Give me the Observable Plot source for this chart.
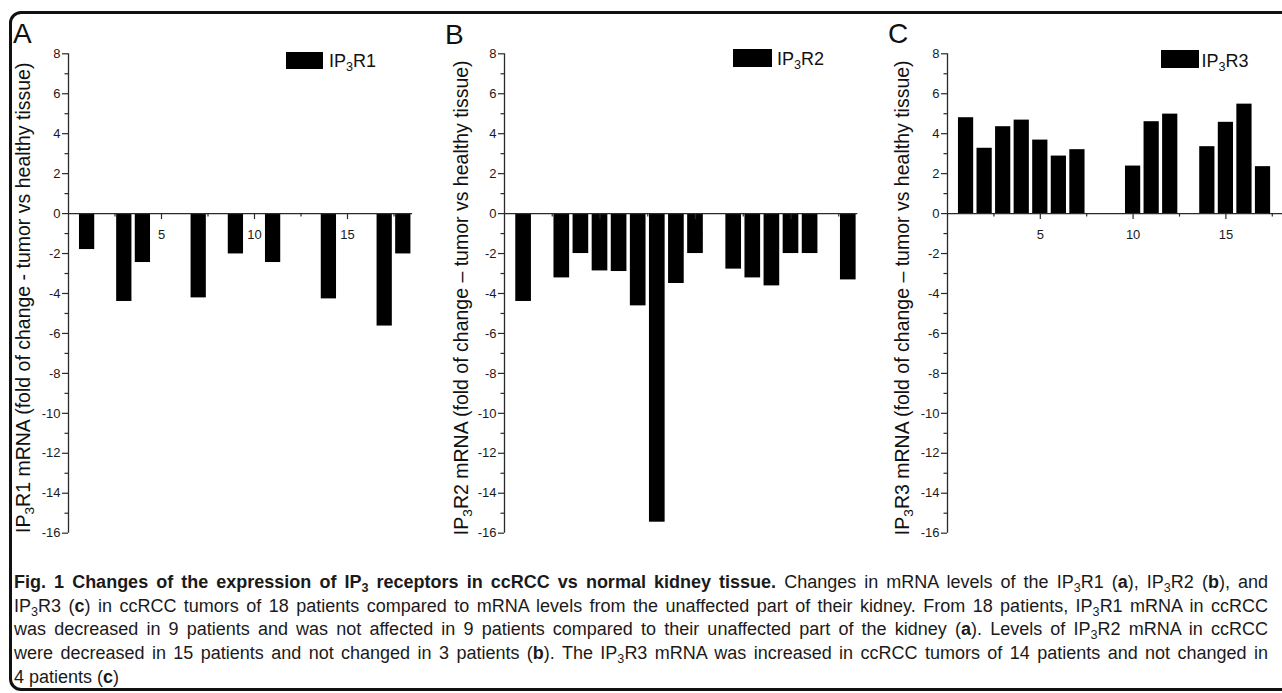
<!DOCTYPE html>
<html>
<head>
<meta charset="utf-8">
<script src="https://cdn.jsdelivr.net/npm/d3@7"></script>
<script src="https://cdn.jsdelivr.net/npm/@observablehq/plot@0.6"></script>
<style>
html, body { margin: 0; padding: 0; background: #fff; overflow: hidden; width: 1282px; height: 693px; }
#fig { position: relative; width: 1282px; height: 693px; overflow: hidden; font-family: "Liberation Sans", Arial, sans-serif; color: #111; }
.frame { position: absolute; left: 8.5px; top: 11px; width: 1330px; height: 680px; border: 3px solid #111; border-radius: 12px; box-sizing: border-box; }
.letter { position: absolute; font-size: 28px; line-height: 28px; }
.ytitle { position: absolute; width: 560px; height: 19.5px; font-size: 19.5px; line-height: 19.5px; text-align: center; white-space: nowrap; transform: rotate(-90deg); }
.legend { position: absolute; font-size: 18px; line-height: 18px; white-space: nowrap; }
.swatch { position: absolute; background: #000; }
sub { font-size: 0.7em; vertical-align: -0.3em; line-height: 0; }
.caption { position: absolute; left: 14px; width: 1254px; top: 571px; font-size: 18px; line-height: 23.7px; color: #1a1a1a; }
.caption div { white-space: nowrap; text-align: justify; text-align-last: justify; }
.caption div.last { text-align-last: left; }
svg text { font-size: 13px; }
</style>
</head>
<body>
<div id="fig"><div class="frame"></div></div>
<script>
// ---- data ----
const patients = [1, 2, 3, 4, 5, 6, 7, 8, 9, 10, 11, 12, 13, 14, 15, 16, 17, 18];
const ip3r1 = [-1.8, null, -4.4, -2.45, null, null, -4.22, null, -2.02, null, -2.45, null, null, -4.27, null, null, -5.63, -2.02];
const ip3r2 = [-4.4, null, -3.22, -2.0, -2.87, -2.9, -4.62, -15.45, -3.5, -2.0, null, -2.78, -3.22, -3.62, -2.0, -2.0, null, -3.32];
const ip3r3 = [4.8, 3.27, 4.35, 4.68, 3.68, 2.88, 3.2, null, null, 2.38, 4.6, 4.98, null, 3.35, 4.57, 5.48, 2.35, null];

const yMajorTicks = [8, 6, 4, 2, 0, -2, -4, -6, -8, -10, -12, -14, -16];
const yMinorTicks = [7, 5, 3, 1, -1, -3, -5, -7, -9, -11, -13, -15];
const xMajorTicks = [5, 10, 15];
const xMinorTicks = [2.5, 7.5, 12.5, 17.5];
const xTickLabels = ["5", "10", "15"];
const xDomain = [0, 18.5];
const yDomain = [-16, 8];

const panelLetters = ["A", "B", "C"];
const seriesNames = ["IP<sub>3</sub>R1", "IP<sub>3</sub>R2", "IP<sub>3</sub>R3"];
const yTitles = [
  "IP<sub>3</sub>R1 mRNA (fold of change - tumor vs healthy tissue)",
  "IP<sub>3</sub>R2 mRNA (fold of change \u2013 tumor vs healthy tissue)",
  "IP<sub>3</sub>R3 mRNA (fold of change \u2013 tumor vs healthy tissue)"
];
const captionLines = [
  "<b>Fig. 1 Changes of the expression of IP<sub>3</sub> receptors in ccRCC vs normal kidney tissue.</b> Changes in mRNA levels of the IP<sub>3</sub>R1 (<b>a</b>), IP<sub>3</sub>R2 (<b>b</b>), and",
  "IP<sub>3</sub>R3 (<b>c</b>) in ccRCC tumors of 18 patients compared to mRNA levels from the unaffected part of their kidney. From 18 patients, IP<sub>3</sub>R1 mRNA in ccRCC",
  "was decreased in 9 patients and was not affected in 9 patients compared to their unaffected part of the kidney (<b>a</b>). Levels of IP<sub>3</sub>R2 mRNA in ccRCC",
  "were decreased in 15 patients and not changed in 3 patients (<b>b</b>). The IP<sub>3</sub>R3 mRNA was increased in ccRCC tumors of 14 patients and not changed in",
  "4 patients (<b>c</b>)"
];

// ---- layout (pixel geometry) ----
const panels = [
  {values: ip3r1, axisLeft: 68,    unit: 18.6,  letter: [13, 20],  titleX: 24,    legend: {x: 286,   y: 51.5, w: 37,   h: 17,   tx: 329,   ty: 52}},
  {values: ip3r2, axisLeft: 503.5, unit: 19.1,  letter: [445, 21], titleX: 461.5, legend: {x: 733.3, y: 48.5, w: 38.4, h: 18.2, tx: 777,   ty: 50}},
  {values: ip3r3, axisLeft: 947.3, unit: 18.56, letter: [888, 20], titleX: 902.5, legend: {x: 1161,  y: 49.5, w: 37.5, h: 18.6, tx: 1201.5, ty: 52}}
];
const barHalf = 0.41;
const mL = 68, mR = 28, mT = 53.3, mB = 27.3, H = 560;
const axisColor = "#2a2a2a";
const textColor = "#1a1a1a";

const fig = document.getElementById("fig");

panels.forEach((p, k) => {
  const data = patients.map((pt, i) => ({patient: pt, value: p.values[i]})).filter(d => d.value != null);
  const width = mL + (xDomain[1] - xDomain[0]) * p.unit + mR;
  const svg = Plot.plot({
    width, height: H,
    marginLeft: mL, marginRight: mR, marginTop: mT, marginBottom: mB,
    x: {domain: xDomain, axis: null},
    y: {domain: yDomain, axis: null},
    style: {background: "transparent", fontFamily: "'Liberation Sans', Arial, sans-serif", fontSize: "13px", overflow: "visible"},
    marks: [
      Plot.text(xTickLabels, {x: d => +d, y: 0, dy: 21, fontSize: 13, fill: textColor}),
      Plot.rect(data, {x1: d => d.patient - barHalf, x2: d => d.patient + barHalf, y1: 0, y2: "value", fill: "#000"}),
      Plot.axisY(yMajorTicks, {anchor: "left", tickSize: 6, tickPadding: 2, fontSize: 13, tickFormat: d => String(d), stroke: axisColor, fill: textColor, strokeWidth: 1.2, label: null}),
      Plot.ruleY(yMinorTicks, {x1: 0, x2: 0, insetLeft: -3.5, stroke: axisColor, strokeWidth: 1.2}),
      Plot.ruleX([0], {y1: yDomain[0], y2: yDomain[1], stroke: axisColor, strokeWidth: 1.3}),
      Plot.ruleY([0], {x1: xDomain[0], x2: xDomain[1], stroke: axisColor, strokeWidth: 1.3}),
      Plot.ruleX(xMajorTicks, {y1: 0, y2: 0, insetBottom: -6, stroke: axisColor, strokeWidth: 1.2}),
      Plot.ruleX(xMinorTicks, {y1: 0, y2: 0, insetBottom: -3.5, stroke: axisColor, strokeWidth: 1.2})
    ]
  });
  svg.style.position = "absolute";
  svg.style.left = (p.axisLeft - mL) + "px";
  svg.style.top = "0px";
  svg.style.maxWidth = "none";
  d3.select(svg).selectAll("text").attr("font-size", 13).style("font-size", "13px");
  fig.appendChild(svg);

  const L = document.createElement("div");
  L.className = "letter";
  L.textContent = panelLetters[k];
  L.style.left = p.letter[0] + "px";
  L.style.top = p.letter[1] + "px";
  fig.appendChild(L);

  const T = document.createElement("div");
  T.className = "ytitle";
  T.innerHTML = yTitles[k];
  T.style.left = (p.titleX - 280) + "px";
  T.style.top = (297.5 - 9.75) + "px";
  fig.appendChild(T);

  const S = document.createElement("div");
  S.className = "swatch";
  S.style.left = p.legend.x + "px";
  S.style.top = p.legend.y + "px";
  S.style.width = p.legend.w + "px";
  S.style.height = p.legend.h + "px";
  fig.appendChild(S);

  const G = document.createElement("div");
  G.className = "legend";
  G.innerHTML = seriesNames[k];
  G.style.left = p.legend.tx + "px";
  G.style.top = p.legend.ty + "px";
  fig.appendChild(G);
});

const cap = document.createElement("div");
cap.className = "caption";
captionLines.forEach((line, i) => {
  const d = document.createElement("div");
  if (i === captionLines.length - 1) d.className = "last";
  d.innerHTML = line;
  cap.appendChild(d);
});
fig.appendChild(cap);
</script>
</body>
</html>
